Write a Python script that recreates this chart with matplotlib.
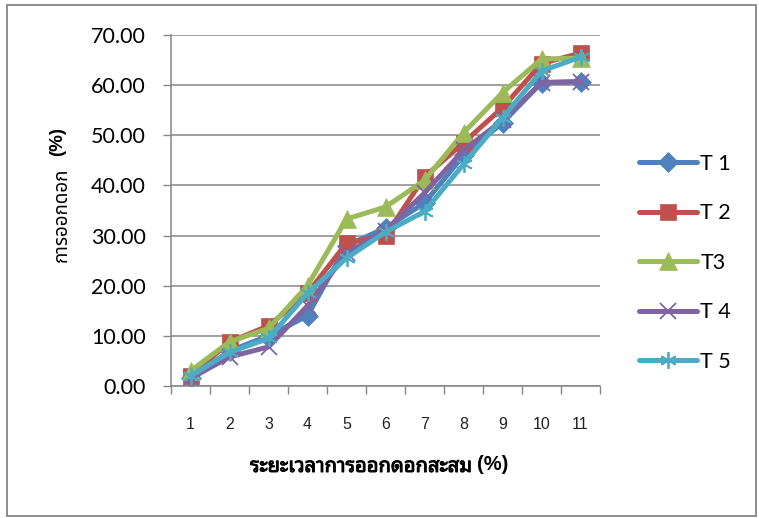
import matplotlib
matplotlib.use('Agg')
import matplotlib.pyplot as plt
import matplotlib.patheffects as pe
import numpy as np

# data
periods = np.arange(1, 12)
t1 = [1.5, 7.0, 10.0, 14.0, 28.0, 31.5, 36.5, 46.0, 52.5, 60.5, 60.7]
t2 = [2.0, 8.8, 12.0, 18.5, 28.5, 30.0, 41.7, 48.5, 55.5, 64.3, 66.4]
t3 = [3.0, 8.8, 11.5, 20.0, 33.3, 35.7, 41.0, 50.5, 58.5, 65.2, 65.4]
t4 = [1.5, 5.8, 7.8, 16.0, 26.5, 31.0, 38.5, 47.0, 53.0, 60.5, 60.7]
t5 = [2.0, 6.7, 9.5, 18.5, 25.5, 30.7, 34.8, 44.2, 53.5, 62.8, 65.6]
names = ['T 1', 'T 2', 'T3', 'T 4', 'T 5']

colors = ['#4F81BD', '#C0504D', '#9BBB59', '#8064A2', '#4BACC6']
markers = ['D', 's', '^', 'x', (6, 2, 0)]
msizes = [10, 12, 13, 12, 12]

thai_loop = ['Noto Sans Thai Looped', 'DejaVu Sans']
thai_plain = ['Noto Sans Thai', 'DejaVu Sans']
grid_c = '#868686'
fake_bold = [pe.withStroke(linewidth=0.7, foreground='black')]

fig = plt.figure(figsize=(7.59, 5.18), dpi=100)
ax = fig.add_axes([171/759, 1 - 386/518, (600-171)/759, (386-35)/518])

for vals, nm, c, mk, ms in zip([t1, t2, t3, t4, t5], names, colors, markers, msizes):
    filled = mk not in ('x',) and not isinstance(mk, tuple)
    ax.plot(periods, vals, color=c, lw=3.6, marker=mk, ms=ms,
            mfc=c, mec=c, mew=0.5 if filled else 1.3,
            solid_capstyle='round', solid_joinstyle='round', label=nm)

ax.set_xlim(0.5, 11.5)
ax.set_ylim(0, 70)
ax.set_yticks(np.arange(0, 71, 10))
ax.set_yticklabels([f'{v:.2f}' for v in np.arange(0, 71, 10)], family='Lato', fontsize=15.5)
ax.set_xticks(periods)
ax.set_xticklabels([str(p) for p in periods], family='Liberation Sans', fontsize=11.5, color='#222222')
ax.set_xticks(np.arange(0.5, 12, 1), minor=True)
ax.tick_params(axis='x', which='major', length=0, pad=22)
ax.tick_params(axis='x', which='minor', length=6, direction='out', color=grid_c, width=1)
ax.tick_params(axis='y', length=6, direction='out', color=grid_c, width=1, pad=12)
ax.yaxis.grid(True, color=grid_c, lw=1.1)
ax.set_axisbelow(True)
for s in ['top', 'right']:
    ax.spines[s].set_visible(False)
for s in ['left', 'bottom']:
    ax.spines[s].set_color(grid_c)
    ax.spines[s].set_linewidth(1.1)

fig.text(250/759, 1 - 467/518, 'ระยะเวลาการออกดอกสะสม', family=thai_loop,
         fontsize=14.5, ha='left', va='center', path_effects=fake_bold)
fig.text(477/759, 1 - 465/518, '(%)', family='Liberation Sans', fontsize=14.5, weight='bold',
         ha='left', va='center')
fig.text(62/759, 1 - 215/518, 'การออกดอก', family=thai_plain, fontsize=13.5,
         rotation=90, ha='center', va='center')
fig.text(58/759, 1 - 142/518, '(%)', family='Liberation Sans', fontsize=13.5, weight='bold',
         rotation=90, ha='center', va='center')

leg = ax.legend(loc='upper left', bbox_to_anchor=(639/759, 1 - 154/518), bbox_transform=fig.transFigure,
                frameon=False, prop={'family': 'Lato', 'size': 15.5}, handlelength=2.7,
                handletextpad=0.15, labelspacing=1.37, borderaxespad=0, borderpad=0)

fig.patches.append(plt.Rectangle((7/759, 1 - 516/518), (756-7)/759, (516-5)/518,
                                 transform=fig.transFigure, fill=False, ec=grid_c, lw=1.3))
fig.savefig('out.png')
